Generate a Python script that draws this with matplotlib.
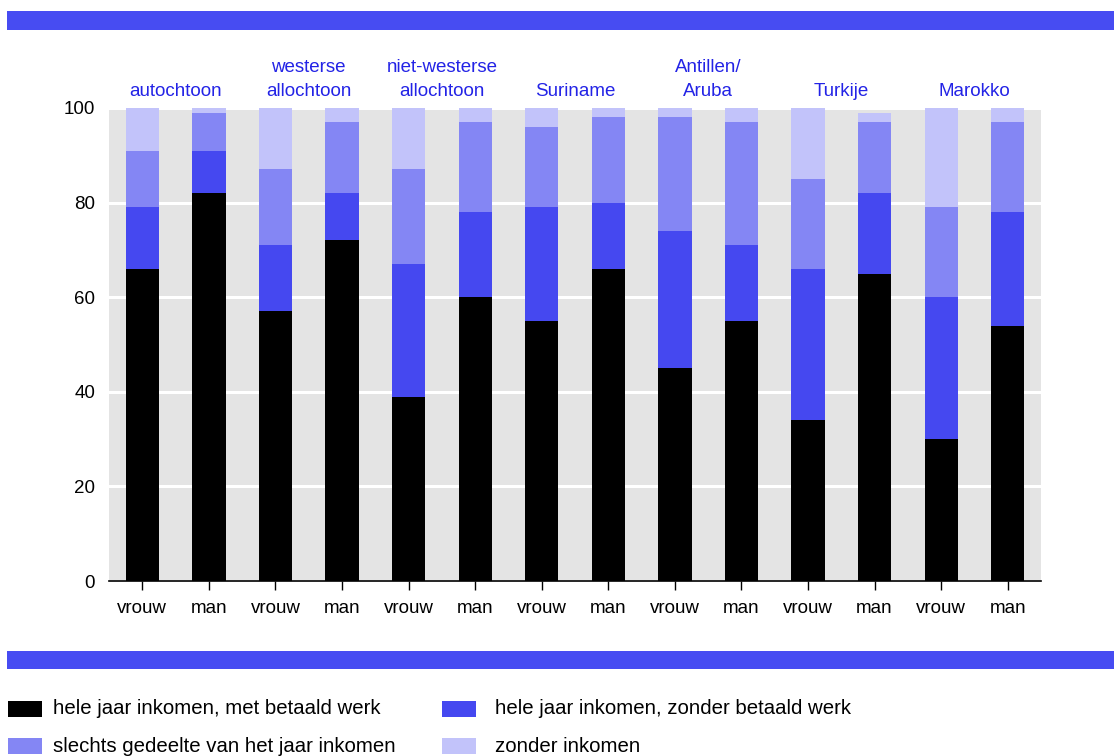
"""Stacked bars: income situation by origin group and sex."""

import matplotlib

matplotlib.use("Agg")
import matplotlib.pyplot as plt
from matplotlib.patches import Rectangle

W, H = 1114, 756

GROUPS = [
    ["autochtoon"],
    ["westerse", "allochtoon"],
    ["niet-westerse", "allochtoon"],
    ["Suriname"],
    ["Antillen/", "Aruba"],
    ["Turkije"],
    ["Marokko"],
]
SEXES = ["vrouw", "man"]

# percentages per bar, bottom to top
met_werk = [66, 82, 57, 72, 39, 60, 55, 66, 45, 55, 34, 65, 30, 54]
zonder_werk = [13, 9, 14, 10, 28, 18, 24, 14, 29, 16, 32, 17, 30, 24]
deel_jaar = [12, 8, 16, 15, 20, 19, 17, 18, 24, 26, 19, 15, 19, 19]
geen_inkomen = [9, 1, 13, 3, 13, 3, 4, 2, 2, 3, 15, 2, 21, 3]

SERIES = [
    ("hele jaar inkomen, met betaald werk", met_werk, "#000000"),
    ("hele jaar inkomen, zonder betaald werk", zonder_werk, "#4548f0"),
    ("slechts gedeelte van het jaar inkomen", deel_jaar, "#8486f4"),
    ("zonder inkomen", geen_inkomen, "#c2c3fa"),
]

BAND = "#474cf2"
LABEL_BLUE = "#2323e6"
FONT = ["Liberation Sans Narrow", "Liberation Sans", "DejaVu Sans"]

plt.rcParams["font.family"] = FONT


def px(x, y):
    """Pixel position (from top-left) to figure fraction."""
    return x / W, 1 - y / H


def main() -> None:
    fig = plt.figure(figsize=(W / 100, H / 100), dpi=100)

    left, top, right, bottom = 109, 108, 1041, 581
    ax = fig.add_axes([left / W, 1 - bottom / H, (right - left) / W, (bottom - top) / H])
    ax.set_facecolor("#e4e4e4")

    n = len(met_werk)
    xs = list(range(n))
    base = [0] * n
    for name, vals, col in SERIES:
        ax.bar(xs, vals, width=0.5, bottom=base, color=col, linewidth=0, zorder=3)
        base = [b + v for b, v in zip(base, vals)]

    ax.set_xlim(-0.5, n - 0.5)
    ax.set_ylim(0, 100)
    ax.set_yticks([0, 20, 40, 60, 80, 100])
    ax.grid(axis="y", color="white", linewidth=2.2, zorder=1)
    ax.set_axisbelow(True)
    for s in ["top", "right", "left"]:
        ax.spines[s].set_visible(False)
    ax.spines["bottom"].set_linewidth(1.2)
    ax.spines["bottom"].set_zorder(4)

    ax.set_xticks(xs)
    ax.set_xticklabels(SEXES * len(GROUPS))
    ax.tick_params(axis="x", length=6.5, width=1.0, pad=7, labelsize=13.5)
    ax.tick_params(axis="y", length=0, pad=10, labelsize=13.5)

    # group labels above each pair of bars
    for i, lines in enumerate(GROUPS):
        xc = 2 * i + 0.5
        for j, line in enumerate(reversed(lines)):
            ax.annotate(
                line, xy=(xc, 1.0), xycoords=("data", "axes fraction"),
                xytext=(0, 9 + j * 17), textcoords="offset points",
                ha="center", va="baseline", fontsize=13.5, color=LABEL_BLUE,
            )

    # blue bands
    for y0, y1 in [(11, 30), (651, 669)]:
        x0, yy = px(7, y1)
        fig.add_artist(Rectangle((x0, yy), (W - 7) / W, (y1 - y0) / H,
                                 transform=fig.transFigure, color=BAND, linewidth=0))

    # legend
    spots = [(8, 709), (442, 709), (8, 746), (442, 746)]
    for (name, _, col), (lx, ly) in zip(SERIES, spots):
        sx, sy = px(lx, ly + 8)
        fig.add_artist(Rectangle((sx, sy), 34 / W, 16 / H, transform=fig.transFigure,
                                 color=col, linewidth=0))
        tx, ty = px(lx + 45 + (8 if lx > 100 else 0), ly)
        fig.text(tx, ty, name, ha="left", va="center", fontsize=14.7)

    fig.savefig("out.png", dpi=100)
    plt.close(fig)


if __name__ == "__main__":
    main()
